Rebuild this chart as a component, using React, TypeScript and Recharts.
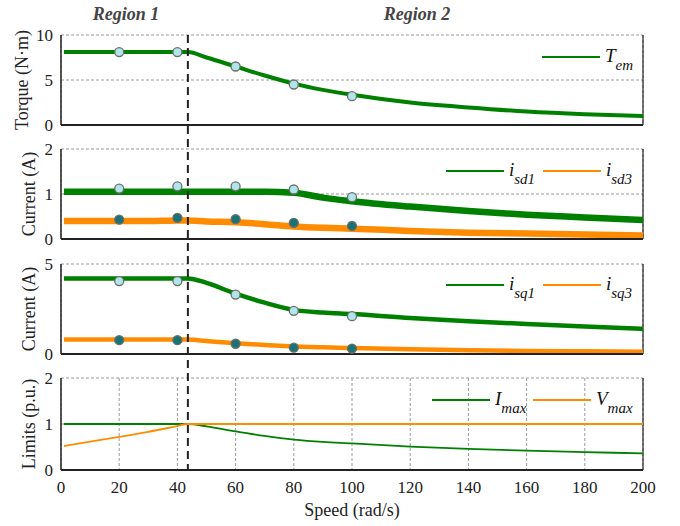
import React from 'react';
import { ComposedChart, Line, XAxis, YAxis, CartesianGrid, ReferenceLine } from 'recharts';

// curve samples (rad/s)
const speed = [1, 10, 20, 30, 40, 43.6, 50, 60, 70, 80, 90, 100, 120, 140, 160, 180, 200];
const torque = [8.1, 8.1, 8.1, 8.1, 8.1, 8.1, 7.5, 6.5, 5.5, 4.6, 3.9, 3.35, 2.5, 1.95, 1.5, 1.2, 1.0];
const isd1 = [1.05, 1.05, 1.05, 1.05, 1.05, 1.05, 1.05, 1.05, 1.05, 1.03, 0.92, 0.84, 0.72, 0.62, 0.54, 0.48, 0.42];
const isd3 = [0.4, 0.4, 0.4, 0.4, 0.41, 0.41, 0.39, 0.37, 0.33, 0.28, 0.25, 0.23, 0.18, 0.14, 0.12, 0.1, 0.08];
const isq1 = [4.2, 4.2, 4.2, 4.2, 4.2, 4.2, 3.95, 3.35, 2.85, 2.45, 2.3, 2.22, 2.0, 1.82, 1.67, 1.53, 1.4];
const isq3 = [0.8, 0.8, 0.8, 0.8, 0.8, 0.8, 0.72, 0.6, 0.5, 0.42, 0.37, 0.33, 0.26, 0.21, 0.17, 0.15, 0.13];
const iMax = [1.0, 1.0, 1.0, 1.0, 1.0, 1.0, 0.95, 0.84, 0.74, 0.66, 0.61, 0.58, 0.51, 0.46, 0.42, 0.39, 0.36];
const vMax = [0.52, 0.615, 0.72, 0.83, 0.955, 1.0, 1.0, 1.0, 1.0, 1.0, 1.0, 1.0, 1.0, 1.0, 1.0, 1.0, 1.0];

// measured points
const markSpeed = [20, 40, 60, 80, 100];
const torqueMarks = [8.1, 8.1, 6.5, 4.5, 3.2];
const isd1Marks = [1.12, 1.17, 1.17, 1.1, 0.93];
const isd3Marks = [0.43, 0.47, 0.44, 0.36, 0.29];
const isq1Marks = [4.05, 4.05, 3.3, 2.4, 2.1];
const isq3Marks = [0.77, 0.77, 0.57, 0.35, 0.3];

const xTicks = [0, 20, 40, 60, 80, 100, 120, 140, 160, 180, 200];
const regionEdge = 43.6;

const rows = speed.map((x, i) => ({
  x, torque: torque[i], isd1: isd1[i], isd3: isd3[i], isq1: isq1[i], isq3: isq3[i], iMax: iMax[i], vMax: vMax[i],
}));
const markRows = markSpeed.map((x, i) => ({
  x, torque: torqueMarks[i], isd1: isd1Marks[i], isd3: isd3Marks[i], isq1: isq1Marks[i], isq3: isq3Marks[i],
}));

const GREEN = '#008000';
const ORANGE = '#ff8c00';
const LIGHT = '#aee6ea';
const DARK = '#1a7373';
const SERIF = "'Liberation Serif', 'Times New Roman', serif";

const W = 680;
const LEFT = 61;
const RIGHT = 37;
const PLOT_W = W - LEFT - RIGHT;
const PAD = 12;

const tickStyle = { fontSize: 17, fill: '#222', fontFamily: SERIF };

const yLabel = (text: string, x: number) => (props: any) => {
  const vb = props.viewBox;
  const cy = vb.y + vb.height / 2;
  return (
    <text x={x} y={cy} transform={`rotate(-90 ${x} ${cy})`} textAnchor="middle" dominantBaseline="central"
      fontSize={18} fill="#222" fontFamily={SERIF}>{text}</text>
  );
};

type Curve = { key: string; color: string; width: number };
type Mark = { key: string; fill: string };

interface PanelProps {
  top: number;
  plotH: number;
  domain: [number, number];
  ticks: number[];
  label: string;
  labelX: number;
  curves: Curve[];
  marks?: Mark[];
  bottom?: boolean;
}

const Panel: React.FC<PanelProps> = ({ top, plotH, domain, ticks, label, labelX, curves, marks = [], bottom }) => {
  const axisH = bottom ? 46 : 1;
  return (
    <div style={{ position: 'absolute', left: 0, top: top - PAD }}>
      <ComposedChart width={W} height={plotH + axisH + PAD * 2} margin={{ top: PAD, right: RIGHT, bottom: PAD, left: 0 }}>
        <CartesianGrid stroke="#9a9a9a" strokeDasharray="3 2" />
        <XAxis dataKey="x" type="number" domain={[0, 200]} ticks={xTicks} allowDataOverflow interval={0}
          height={axisH} tick={bottom ? tickStyle : false} tickLine={false} tickMargin={5}
          axisLine={{ stroke: '#222', strokeWidth: 2 }}
          label={bottom ? { value: 'Speed (rad/s)', position: 'insideBottom', offset: 0, fontSize: 18, fill: '#222', fontFamily: SERIF } : undefined} />
        <YAxis type="number" domain={domain} ticks={ticks} interval={0} width={LEFT} tick={tickStyle} tickLine={false}
          axisLine={{ stroke: '#222', strokeWidth: 1.5 }} label={{ content: yLabel(label, labelX) }} />
        <ReferenceLine x={200} stroke="#222" strokeWidth={1.2} />
        {curves.map((c) => (
          <Line key={c.key} data={rows} dataKey={c.key} type="monotone" stroke={c.color} strokeWidth={c.width}
            dot={false} isAnimationActive={false} />
        ))}
        {marks.map((m) => (
          <Line key={'m' + m.key} data={markRows} dataKey={m.key} stroke="none"
            dot={{ r: 4.5, fill: m.fill, stroke: '#6e6e6e', strokeWidth: 1.3 }} isAnimationActive={false} />
        ))}
      </ComposedChart>
    </div>
  );
};

const LegendItem: React.FC<{ x: number; y: number; color: string; main: string; sub: string }> = ({ x, y, color, main, sub }) => (
  <g>
    <line x1={x} x2={x + 58} y1={y} y2={y} stroke={color} strokeWidth={2} />
    <text x={x + 63} y={y + 5} fontFamily={SERIF} fontStyle="italic" fill="#111">
      <tspan fontSize={19}>{main}</tspan>
      <tspan fontSize={15} dy={8}>{sub}</tspan>
    </text>
  </g>
);

const App: React.FC = () => {
  const edgeX = LEFT + (regionEdge / 200) * PLOT_W;
  return (
    <div style={{ position: 'absolute', left: 0, top: 0, width: W, height: 526, background: '#fff', fontFamily: SERIF }}>
      <style>{`.recharts-wrapper text { font-family: ${SERIF}; }`}</style>
      <Panel top={35} plotH={90} domain={[0, 10]} ticks={[0, 5, 10]} label="Torque (N·m)" labelX={22}
        curves={[{ key: 'torque', color: GREEN, width: 4 }]} marks={[{ key: 'torque', fill: LIGHT }]} />
      <Panel top={149} plotH={90} domain={[0, 2]} ticks={[0, 1, 2]} label="Current (A)" labelX={29}
        curves={[{ key: 'isd1', color: GREEN, width: 6.5 }, { key: 'isd3', color: ORANGE, width: 6.5 }]}
        marks={[{ key: 'isd1', fill: LIGHT }, { key: 'isd3', fill: DARK }]} />
      <Panel top={264} plotH={90} domain={[0, 5]} ticks={[0, 5]} label="Current (A)" labelX={29}
        curves={[{ key: 'isq1', color: GREEN, width: 4.5 }, { key: 'isq3', color: ORANGE, width: 4.5 }]}
        marks={[{ key: 'isq1', fill: LIGHT }, { key: 'isq3', fill: DARK }]} />
      <Panel top={378} plotH={92} domain={[0, 2]} ticks={[0, 1, 2]} label="Limits (p.u.)" labelX={29}
        curves={[{ key: 'iMax', color: GREEN, width: 1.8 }, { key: 'vMax', color: ORANGE, width: 1.8 }]} bottom />
      <svg width={W} height={526} style={{ position: 'absolute', left: 0, top: 0, pointerEvents: 'none' }}>
        <line x1={edgeX} x2={edgeX} y1={35} y2={470} stroke="#222" strokeWidth={2} strokeDasharray="8 5" />
        <text x={126} y={20} textAnchor="middle" fontSize={18} fontWeight="bold" fontStyle="italic" fill="#444" fontFamily={SERIF}>Region 1</text>
        <text x={417} y={20} textAnchor="middle" fontSize={18} fontWeight="bold" fontStyle="italic" fill="#444" fontFamily={SERIF}>Region 2</text>
        <LegendItem x={542} y={57} color={GREEN} main="T" sub="em" />
        <LegendItem x={446} y={171} color={GREEN} main="i" sub="sd1" />
        <LegendItem x={543} y={171} color={ORANGE} main="i" sub="sd3" />
        <LegendItem x={446} y={285} color={GREEN} main="i" sub="sq1" />
        <LegendItem x={543} y={285} color={ORANGE} main="i" sub="sq3" />
        <LegendItem x={432} y={400} color={GREEN} main="I" sub="max" />
        <LegendItem x={533} y={400} color={ORANGE} main="V" sub="max" />
      </svg>
    </div>
  );
};

export default App;
